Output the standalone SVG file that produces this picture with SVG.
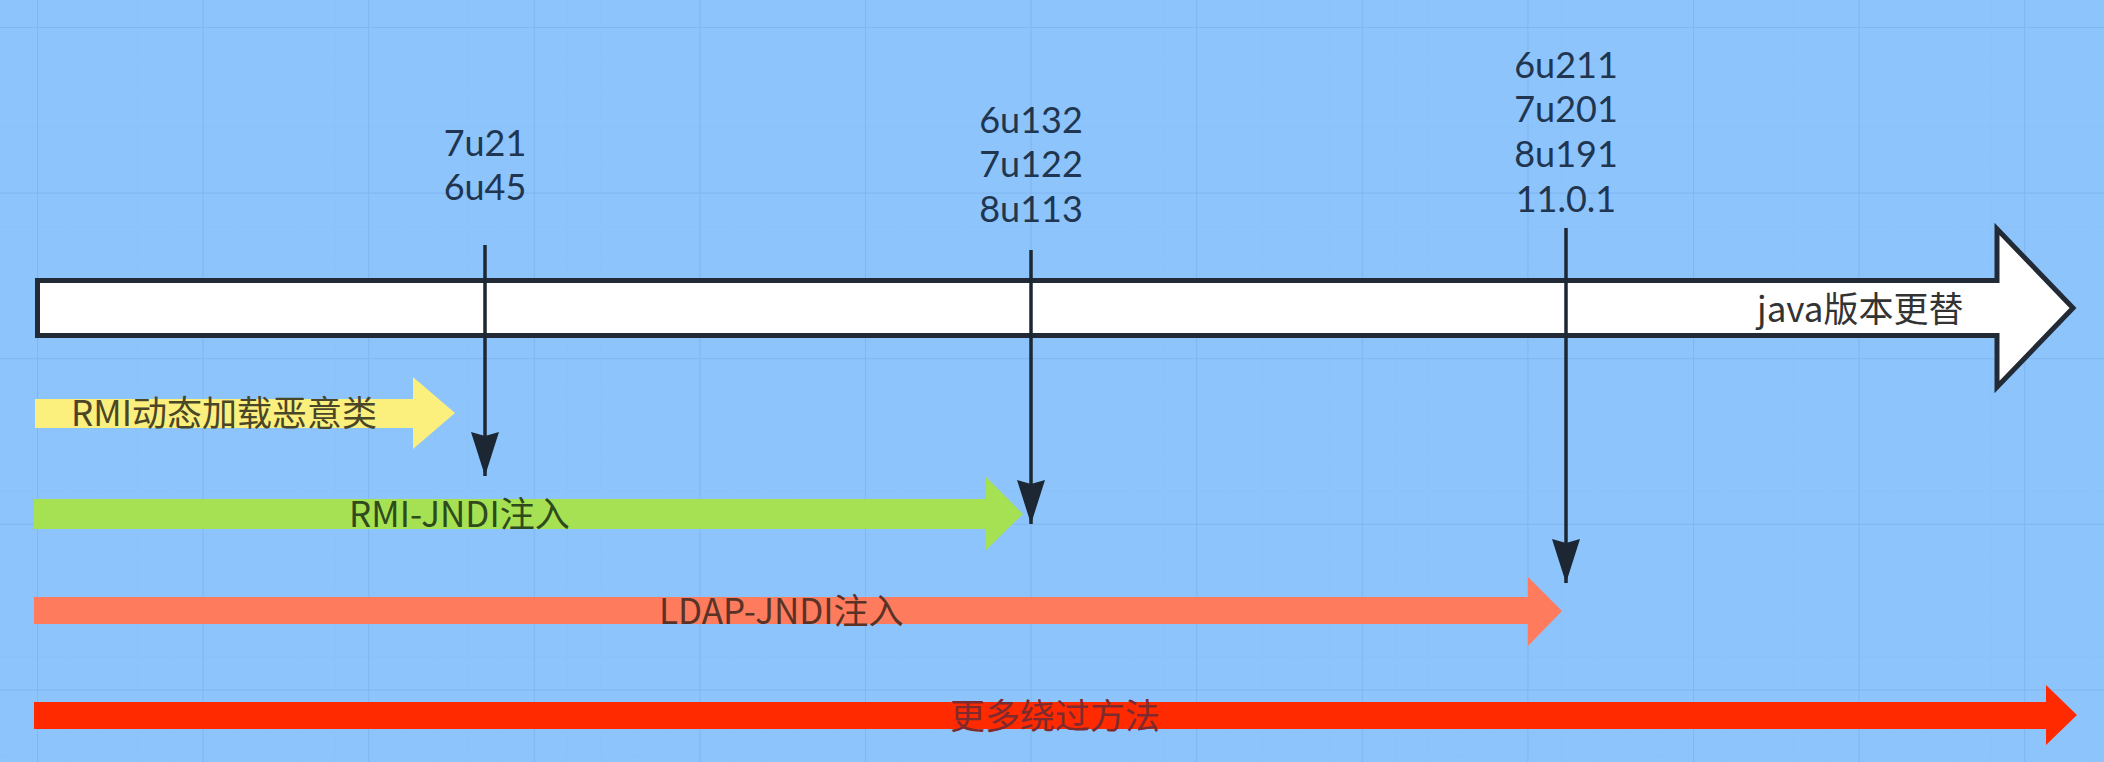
<svg xmlns="http://www.w3.org/2000/svg" width="2104" height="762" viewBox="0 0 2104 762">
<defs>
<pattern id="minor" x="37" y="27" width="33.12" height="33.12" patternUnits="userSpaceOnUse">
<path d="M0 0V33.12M0 0H33.12" fill="none" stroke="#89c0f8" stroke-width="1"/>
</pattern>
<pattern id="major" x="37" y="27" width="165.6" height="165.6" patternUnits="userSpaceOnUse">
<path d="M0 0V165.6M0 0H165.6" fill="none" stroke="#80b7f0" stroke-width="2"/>
</pattern>
<marker id="ah" markerUnits="userSpaceOnUse" markerWidth="48" markerHeight="32" refX="44" refY="16" orient="auto" viewBox="0 0 48 32">
<path d="M0 2 L4 16 L0 30 L44 16 Z" fill="#1c2733"/>
</marker>
</defs>
<style>
.ver{font-family:Lato,"Noto Sans",sans-serif;font-size:36px;fill:#1f3550;text-anchor:middle}
.lbl{font-family:"Noto Sans CJK SC","Noto Sans",sans-serif;font-size:35px}
.vline{stroke:#1c2733;stroke-width:3.5;fill:none}
</style>
<rect width="2104" height="762" fill="#8dc4fc"/>
<rect width="2104" height="762" fill="url(#minor)"/>
<rect width="2104" height="762" fill="url(#major)"/>

<g id="timeline">
<path d="M37.5 280.5 H1997 V229 L2073 308 L1997 387 V335.5 H37.5 Z" fill="#ffffff" stroke="#222b35" stroke-width="5" stroke-linejoin="miter"/>
<text class="lbl" x="1757" y="322" fill="#333333">java版本更替</text>
</g>

<g id="rmi-dynamic">
<path d="M35 399 H413 V377 L455 413 L413 449 V428 H35 Z" fill="#fbef7e"/>
<text class="lbl" x="71" y="426" fill="#4a4628">RMI动态加载恶意类</text>
</g>

<g id="rmi-jndi">
<path d="M34 499 H986 V477 L1023 514 L986 550 V529 H34 Z" fill="#a5e152"/>
<text class="lbl" x="349" y="527" fill="#2f4a1c">RMI-JNDI注入</text>
</g>

<g id="ldap-jndi">
<path d="M34 597 H1528 V577 L1562 611 L1528 646 V624 H34 Z" fill="#fe7c5d"/>
<text class="lbl" x="659" y="624" fill="#5a3328">LDAP-JNDI注入</text>
</g>

<g id="more-bypass">
<path d="M34 702 H2046 V685 L2077 715 L2046 745 V729 H34 Z" fill="#ff2a00"/>
<text class="lbl" x="950" y="729" fill="#7e2a2e">更多绕过方法</text>
</g>

<g id="v1">
<text class="ver" x="485" y="156">7u21</text>
<text class="ver" x="485" y="200">6u45</text>
</g>
<g id="v2">
<text class="ver" x="1031" y="133">6u132</text>
<text class="ver" x="1031" y="177">7u122</text>
<text class="ver" x="1031" y="222">8u113</text>
</g>
<g id="v3">
<text class="ver" x="1566" y="78">6u211</text>
<text class="ver" x="1566" y="122">7u201</text>
<text class="ver" x="1566" y="167">8u191</text>
<text class="ver" x="1566" y="212">11.0.1</text>
</g>

<g id="connectors">
<line class="vline" x1="485" y1="245" x2="485" y2="476" marker-end="url(#ah)"/>
<line class="vline" x1="1031" y1="250" x2="1031" y2="524" marker-end="url(#ah)"/>
<line class="vline" x1="1566" y1="228" x2="1566" y2="583" marker-end="url(#ah)"/>
</g>
</svg>
